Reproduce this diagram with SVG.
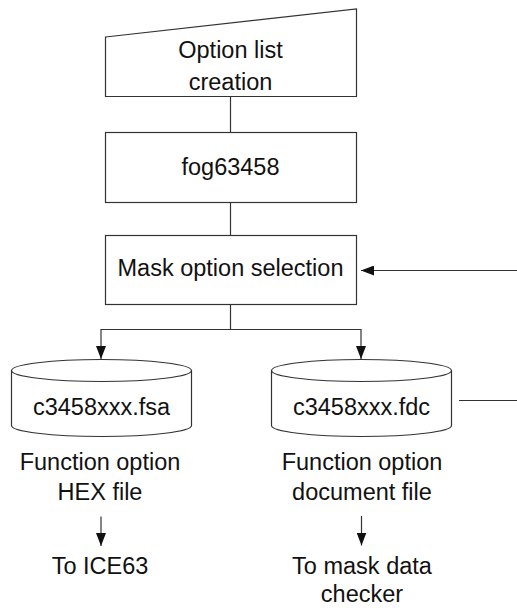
<svg xmlns="http://www.w3.org/2000/svg" width="517" height="608" viewBox="0 0 517 608">
<style>
.s{fill:#fff;stroke:#333;stroke-width:1.2}
.c{fill:none;stroke:#333;stroke-width:1.2}
text{font-family:"Liberation Sans",Arial,Helvetica,sans-serif;font-size:23.5px;fill:#111;text-anchor:middle}
</style>
<defs>
<marker id="ah" markerUnits="userSpaceOnUse" markerWidth="14" markerHeight="10" refX="13" refY="5" orient="auto">
<path d="M0,0 L13,5 L0,10 z" fill="#111"/>
</marker>
</defs>
<g id="connectors">
<line class="c" x1="230.5" y1="96.5" x2="230.5" y2="132.5"/>
<line class="c" x1="230.5" y1="202.5" x2="230.5" y2="235.5"/>
<line class="c" x1="230.5" y1="304.5" x2="230.5" y2="329.5"/>
<line class="c" x1="100.5" y1="329.5" x2="361.5" y2="329.5"/>
<line class="c" x1="101" y1="329.5" x2="101" y2="359" marker-end="url(#ah)"/>
<line class="c" x1="361" y1="329.5" x2="361" y2="359" marker-end="url(#ah)"/>
<line class="c" x1="517" y1="270.5" x2="361" y2="270.5" marker-end="url(#ah)"/>
<line class="c" x1="459" y1="400.5" x2="517" y2="400.5"/>
<line class="c" x1="101" y1="516.5" x2="101" y2="546" marker-end="url(#ah)"/>
<line class="c" x1="361.5" y1="516" x2="361.5" y2="545.5" marker-end="url(#ah)"/>
</g>
<g id="option-list">
<polygon class="s" points="105.5,37 356.5,9 356.5,96.5 105.5,96.5"/>
<text x="230.5" y="57.5">Option list</text>
<text x="230.5" y="90">creation</text>
</g>
<g id="fog">
<rect class="s" x="105.5" y="132.5" width="251" height="70"/>
<text x="230.5" y="175">fog63458</text>
</g>
<g id="mask">
<rect class="s" x="105.5" y="235.5" width="251" height="69"/>
<text x="230.5" y="276">Mask option selection</text>
</g>
<g id="fsa">
<path class="s" d="M11.5,370.5 A90,11 0 0 1 191.5,370.5 L191.5,425.5 A90,11 0 0 1 11.5,425.5 Z"/>
<path class="c" d="M11.5,370.5 A90,11 0 0 0 191.5,370.5"/>
<text x="101.5" y="415">c3458xxx.fsa</text>
</g>
<g id="fdc">
<path class="s" d="M271.5,370.5 A90,11 0 0 1 451.5,370.5 L451.5,425.5 A90,11 0 0 1 271.5,425.5 Z"/>
<path class="c" d="M271.5,370.5 A90,11 0 0 0 451.5,370.5"/>
<text x="361.5" y="415">c3458xxx.fdc</text>
</g>
<g id="hex-label">
<text x="100" y="470">Function option</text>
<text x="100" y="499.5">HEX file</text>
</g>
<g id="ice">
<text x="100" y="573.5">To ICE63</text>
</g>
<g id="doc-label">
<text x="362" y="470">Function option</text>
<text x="362" y="499.5">document file</text>
</g>
<g id="checker">
<text x="362" y="573.5">To mask data</text>
<text x="362" y="601.5">checker</text>
</g>
</svg>
